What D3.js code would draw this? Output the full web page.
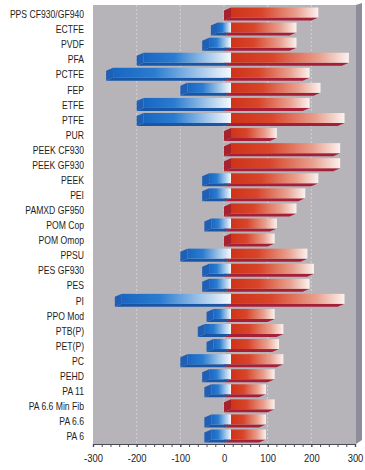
<!DOCTYPE html>
<html><head><meta charset="utf-8">
<script src="https://cdn.jsdelivr.net/npm/d3@7"></script>
<style>
body{margin:0;background:#fff;}
svg{display:block;}
text{font-family:"Liberation Sans Narrow","Arial Narrow","Liberation Sans",Arial,sans-serif;}
</style>
</head><body><svg id="c" width="365" height="470"></svg>
<script>
const categories = ["PPS CF930/GF940","ECTFE","PVDF","PFA","PCTFE","FEP","ETFE","PTFE","PUR","PEEK CF930","PEEK GF930","PEEK","PEI","PAMXD GF950","POM Cop","POM Omop","PPSU","PES GF930","PES","PI","PPO Mod","PTB(P)","PET(P)","PC","PEHD","PA 11","PA 6.6 Min Fib","PA 6.6","PA 6"];
const minTemp = [0,-30,-50,-200,-270,-100,-200,-200,0,0,0,-50,-50,0,-45,0,-100,-50,-50,-250,-40,-60,-40,-100,-50,-45,0,-45,-45];
const maxTemp = [200,150,150,270,180,205,180,260,105,250,250,200,170,150,105,100,175,190,180,260,100,120,110,120,100,80,100,80,80];
const tickValues = [-300,-200,-100,0,100,200,300];
const gridValues = [-200,-100,0,100,200];

const svg = d3.select("#c");
const x = d3.scaleLinear().domain([-300,300]).range([93,355]);
const y = d3.scalePoint().domain(categories).range([14.5,436.5]);
const DX = 7, DY = -3;
const plotTop = 5, plotBottom = 444;

const defs = svg.append("defs");
const rg = defs.append("linearGradient").attr("id","gRed").attr("x1","0").attr("x2","1").attr("y1","0").attr("y2","0");
[[0,"#cf3318"],[0.35,"#d8452a"],[0.75,"#e9a08e"],[1,"#fbf2ef"]].forEach(s=>rg.append("stop").attr("offset",s[0]).attr("stop-color",s[1]));
const bg = defs.append("linearGradient").attr("id","gBlue").attr("x1","0").attr("x2","1").attr("y1","0").attr("y2","0");
[[0,"#1866c2"],[0.35,"#2a7cd0"],[0.75,"#a9cbec"],[1,"#f6f9fd"]].forEach(s=>bg.append("stop").attr("offset",s[0]).attr("stop-color",s[1]));

// plot background + right wall
svg.append("rect").attr("x",x(-300)).attr("y",plotTop).attr("width",x(300)+1-x(-300)).attr("height",plotBottom-plotTop).attr("fill","#b6b3b9");
svg.append("polygon").attr("points",[[x(300)+1,plotTop],[x(300)+7,plotTop-2],[x(300)+7,plotBottom-4],[x(300)+1,plotBottom]].join(" ")).attr("fill","#8e8c9a");

// gridlines
svg.append("g").selectAll("line").data(gridValues).join("line")
  .attr("x1",d=>x(d)).attr("x2",d=>x(d)).attr("y1",plotTop).attr("y2",plotBottom)
  .attr("stroke","#dcdbe0").attr("stroke-width",0.8).attr("stroke-dasharray","2,2");

function bar(g, a, b, yc, grad, side, bottom){
  const x0=x(a), x1=x(b), f0=x0+DX, f1=x1+DX;
  const ft=yc-7, fb=yc+3;
  g.append("polygon").attr("points",[[f0,fb],[f1,fb],[x1,fb-DY],[x0,fb-DY]].join(" ")).attr("fill",bottom);
  g.append("polygon").attr("points",[[f0,ft],[f0,fb],[x0,fb-DY],[x0,ft-DY]].join(" ")).attr("fill",side);
  g.append("rect").attr("x",f0).attr("y",ft).attr("width",f1-f0).attr("height",fb-ft).attr("fill",grad);
}

const bars = svg.append("g");
categories.forEach((c,i)=>{
  const g = bars.append("g");
  if (maxTemp[i]>0) bar(g,0,maxTemp[i],y(c),"url(#gRed)","#a8222e","#a51f38");
  if (minTemp[i]<0) bar(g,minTemp[i],0,y(c),"url(#gBlue)","#1f5fb4","#1a56a6");
});

// category labels (condensed via horizontal scale)
svg.append("g").selectAll("text").data(categories).join("text")
  .attr("transform",d=>`translate(84,${y(d)}) scale(0.82,1)`)
  .attr("dy","0.35em").attr("text-anchor","end")
  .attr("font-size",10.5).attr("fill","#1e1e22").text(d=>d);

// axis
const axisG = svg.append("g").attr("transform",`translate(0,${plotBottom})`);
axisG.call(d3.axisBottom(x).tickValues(d3.range(-300,301,20)).tickSize(3).tickFormat(""));
axisG.append("g").call(d3.axisBottom(x).tickValues(tickValues).tickSize(3).tickFormat(d=>String(d)));
axisG.selectAll("path.domain").attr("stroke","#4a4a55").attr("stroke-width",1.2);
axisG.selectAll("line").attr("stroke","#4a4a55");
axisG.selectAll("text").attr("font-size",11.5).attr("fill","#222")
  .attr("font-family",'"Liberation Sans",Arial,sans-serif').attr("dy","1.05em")
  .attr("transform","scale(0.82,1)");
</script></body></html>
